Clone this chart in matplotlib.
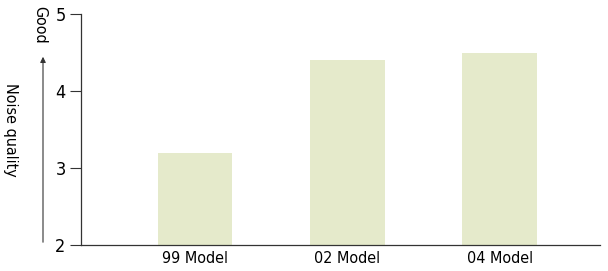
import matplotlib.pyplot as plt
from matplotlib.patches import FancyArrowPatch

models = ["99 Model", "02 Model", "04 Model"]
quality = [3.2, 4.4, 4.5]
yticks = [2, 3, 4, 5]

plt.rcParams['font.family'] = ['DejaVu Sans']
plt.rcParams['font.stretch'] = 'condensed'

fig = plt.figure(figsize=(6.08, 2.71), dpi=100)
ax = fig.add_axes([0.133, 0.096, 0.854, 0.852])

x = range(len(models))
ax.bar(x, quality, width=0.49, color='#e5eacb', bottom=0)
ax.set_xlim(-0.75, 2.66)
ax.set_ylim(2, 5)
ax.set_yticks(yticks)
ax.set_xticks(list(x))
ax.set_xticklabels(models, fontsize=11.5)
ax.tick_params(axis='x', length=0, pad=4)
ax.tick_params(axis='y', length=8, width=0.8, labelsize=13, pad=3, color='#333333')

for s in ['top', 'right']:
    ax.spines[s].set_visible(False)
for s in ['left', 'bottom']:
    ax.spines[s].set_color('#333333')
    ax.spines[s].set_linewidth(0.9)

# y label with an arrow pointing up toward "Good"
fig.text(10 / 608, 1 - 130 / 271, "Noise quality", rotation=-90, fontsize=11.5,
         ha='center', va='center')
fig.text(40 / 608, 1 - 25 / 271, "Good", rotation=-90, fontsize=11.5,
         ha='center', va='center')
fig.patches.append(FancyArrowPatch(
    (43 / 608, 1 - 245 / 271), (43 / 608, 1 - 54 / 271),
    transform=fig.transFigure, arrowstyle='-|>', mutation_scale=8,
    color='#333333', linewidth=0.8))

fig.savefig("out.png", dpi=100)
